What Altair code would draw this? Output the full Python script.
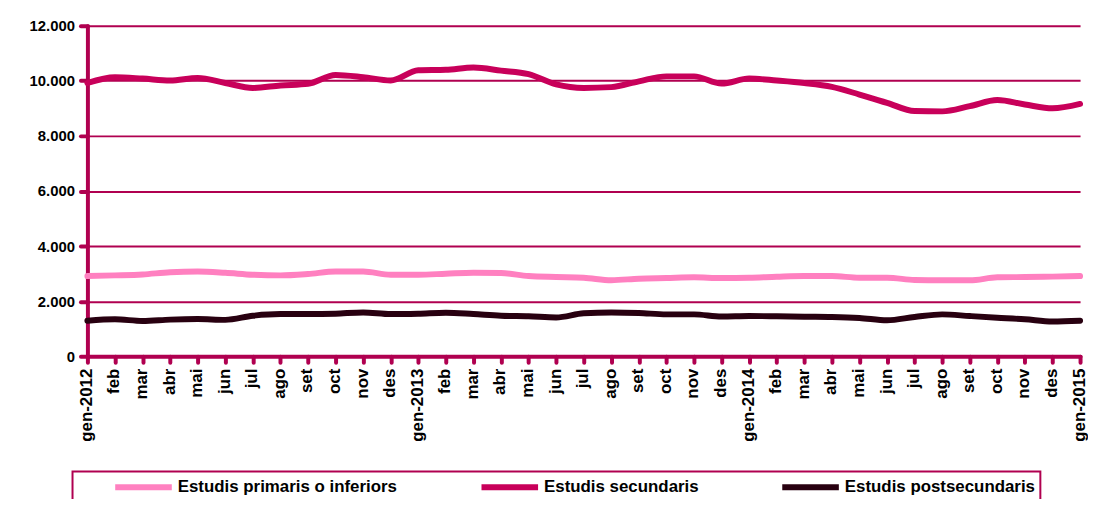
import altair as alt
import pandas as pd

months = ["gen-2012", "feb", "mar", "abr", "mai", "jun", "jul", "ago", "set", "oct", "nov", "des",
          "gen-2013", "feb", "mar", "abr", "mai", "jun", "jul", "ago", "set", "oct", "nov", "des",
          "gen-2014", "feb", "mar", "abr", "mai", "jun", "jul", "ago", "set", "oct", "nov", "des",
          "gen-2015"]

primaris = [2910, 2935, 2970, 3050, 3075, 3030, 2960, 2935, 2985, 3075, 3075, 2960,
            2960, 2995, 3030, 3020, 2910, 2875, 2850, 2760, 2815, 2840, 2865, 2840,
            2850, 2885, 2910, 2910, 2850, 2850, 2770, 2755, 2755, 2865, 2875, 2890,
            2910]
secundaris = [9920, 10130, 10080, 10010, 10100, 9920, 9740, 9830, 9890, 10210, 10130, 10010,
              10380, 10400, 10480, 10370, 10240, 9870, 9740, 9770, 9980, 10160, 10160, 9900,
              10080, 10010, 9920, 9780, 9500, 9200, 8900, 8890, 9080, 9300, 9140, 9000,
              9160]
postsecundaris = [1290, 1340, 1280, 1330, 1350, 1320, 1470, 1530, 1530, 1545, 1590, 1530,
                  1545, 1580, 1530, 1470, 1450, 1410, 1560, 1590, 1570, 1520, 1520, 1440,
                  1460, 1450, 1435, 1425, 1390, 1305, 1425, 1520, 1460, 1400, 1340, 1260,
                  1290]

series_names = ["Estudis primaris o inferiors", "Estudis secundaris", "Estudis postsecundaris"]
series_colors = ["#FF80C0", "#C8005A", "#280010"]

rows = []
for name, vals in zip(series_names, [primaris, secundaris, postsecundaris]):
    for i, v in enumerate(vals):
        rows.append({"idx": i, "serie": name, "valor": v})
df = pd.DataFrame(rows)

label_array = "[" + ",".join("'" + m + "'" for m in months) + "]"
axis_color = "#B00050"
font = "Liberation Sans"

chart = alt.Chart(df).mark_line(strokeWidth=6, interpolate="monotone", strokeCap="round").encode(
    x=alt.X("idx:Q",
            scale=alt.Scale(domain=[0, len(months) - 1], nice=False, zero=False),
            axis=alt.Axis(values=list(range(len(months))), labelExpr=label_array + "[datum.value]",
                          labelAngle=-90, labelAlign="right", labelBaseline="middle",
                          grid=False, title=None, tickSize=6, labelPadding=6,
                          labelFontSize=17, labelOffset=-1)),
    y=alt.Y("valor:Q",
            scale=alt.Scale(domain=[0, 12000], nice=False),
            axis=alt.Axis(values=[0, 2000, 4000, 6000, 8000, 10000, 12000],
                          labelExpr="replace(format(datum.value, ','), ',', '.')",
                          grid=True, title=None, tickSize=7, labelPadding=6,
                          labelFontSize=15)),
    color=alt.Color("serie:N",
                    scale=alt.Scale(domain=series_names, range=series_colors),
                    legend=alt.Legend(orient="none", legendX=-15, legendY=449, direction="horizontal",
                                      columns=3, title=None, symbolType="stroke", symbolSize=3249,
                                      symbolStrokeWidth=6, padding=5, symbolOffset=35,
                                      columnPadding=46, labelOffset=3, strokeColor=axis_color,
                                      clipHeight=22)),
    order=alt.Order("idx:Q"),
).properties(
    width=1000, height=333,
    autosize=alt.AutoSizeParams(type="none"),
    padding={"left": 80, "top": 16, "right": 8, "bottom": 142},
).configure_view(
    stroke=None
).configure_axis(
    domainColor=axis_color, domainWidth=4, domainCap="round",
    tickColor=axis_color, tickWidth=4, tickCap="round",
    gridColor=axis_color, gridWidth=2, gridOpacity=1,
    labelFont=font, labelFontWeight="bold", labelColor="#000000",
).configure_legend(
    labelFont=font, labelFontWeight="bold", labelFontSize=17, labelColor="#000000",
    strokeWidth=2, labelLimit=400,
)

chart.save("out.html", embed_options={"renderer": "svg", "actions": False})
